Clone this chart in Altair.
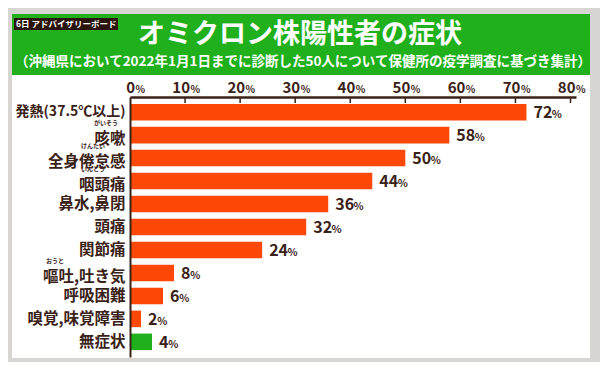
import altair as alt
import pandas as pd

categories = ["発熱(37.5℃以上)", "咳嗽", "全身倦怠感", "咽頭痛", "鼻水,鼻閉", "頭痛",
              "関節痛", "嘔吐,吐き気", "呼吸困難", "嗅覚,味覚障害", "無症状"]
values = [72, 58, 50, 44, 36, 32, 24, 8, 6, 2, 4]
groups = ["症状"] * 10 + ["無症状"]
ruby_cats = ["咳嗽", "全身倦怠感", "咽頭痛", "嘔吐,吐き気"]
ruby_text = ["がいそう", "けんたい", "いんとう", "おうと"]
ticks = [0, 10, 20, 30, 40, 50, 60, 70, 80]

title = "オミクロン株陽性者の症状"
subtitle = "（沖縄県において2022年1月1日までに診断した50人について保健所の疫学調査に基づき集計）"
badge = "6日 アドバイザリーボード"

FONT = "Noto Sans CJK JP"
DARK = "#3a2216"
ORANGE = "#fd4808"
GREEN = "#1fb01c"

W, H = 446, 260
PX = W / 81.0

df = pd.DataFrame({"cat": categories, "v": values, "g": groups})
tdf = pd.DataFrame({"t": ticks})
one = pd.DataFrame({"a": [0]})

xs = alt.Scale(domain=[0, 81], nice=False)
ys = alt.Scale(paddingInner=0.28, paddingOuter=0.3)
ysort = categories

ruby_list = "[" + ",".join(f"'{c}'" for c in ruby_cats) + "]"
first_cat = categories[0]

panel = alt.Chart(one).mark_rect(color="white").encode(
    x=alt.value(-118), x2=alt.value(460), y=alt.value(-83), y2=alt.value(261))
header = alt.Chart(one).mark_rect(color=GREEN).encode(
    x=alt.value(-118), x2=alt.value(460), y=alt.value(-83), y2=alt.value(-22))
badge_box = alt.Chart(one).mark_rect(color="#2a140b").encode(
    x=alt.value(-116), x2=alt.value(-12), y=alt.value(-79), y2=alt.value(-67))
badge_txt = alt.Chart(one).mark_text(
    text=badge, color="white", font=FONT, fontWeight="bold", fontSize=8.5,
    align="left", baseline="middle").encode(x=alt.value(-114), y=alt.value(-73))
title_txt = alt.Chart(one).mark_text(
    text=title, color="white", font=FONT, fontWeight="bold", fontSize=27,
    align="center", baseline="middle").encode(x=alt.value(170), y=alt.value(-62))
sub_txt = alt.Chart(one).mark_text(
    text=subtitle, color="white", font=FONT, fontWeight="bold", fontSize=13.5,
    align="center", baseline="middle").encode(x=alt.value(173), y=alt.value(-35))

bars = alt.Chart(df).mark_bar().encode(
    x=alt.X("v:Q", scale=xs,
            axis=alt.Axis(orient="top", labels=False, ticks=False, grid=False,
                          domainColor=DARK, domainWidth=2.5, title=None, zindex=2)),
    y=alt.Y("cat:N", sort=ysort, scale=ys,
            axis=alt.Axis(
                title=None, ticks=False, domainColor=DARK, domainWidth=2,
                labelFont=FONT, labelFontWeight="bold",
                labelFontSize={"condition": {"test": f"datum.value == '{first_cat}'", "value": 14},
                               "value": 15.5},
                labelOffset={"condition": {"test": f"indexof({ruby_list}, datum.value) >= 0",
                                           "value": 4}, "value": 0},
                labelColor=DARK, labelPadding=5, zindex=2)),
    color=alt.Color("g:N", scale=alt.Scale(domain=["症状", "無症状"], range=[ORANGE, GREEN]),
                    legend=None),
)

num_lbl = alt.Chart(df).mark_text(
    font=FONT, fontWeight="bold", fontSize=16, color=DARK, align="left",
    baseline="alphabetic", dx=7, dy=6).encode(
    x=alt.X("v:Q", scale=xs), y=alt.Y("cat:N", sort=ysort, scale=ys),
    text=alt.Text("v:Q"))
pct_lbl = alt.Chart(df).transform_calculate(
    px=f"datum.v + length(toString(datum.v)) * 9.2 / {PX}").mark_text(
    text="%", font=FONT, fontWeight="bold", fontSize=10.5, color=DARK, align="left",
    baseline="alphabetic", dx=7, dy=6).encode(
    x=alt.X("px:Q", scale=xs), y=alt.Y("cat:N", sort=ysort, scale=ys))

ruby_layers = []
ruby_x = {"咳嗽": -24, "全身倦怠感": -37, "咽頭痛": -37, "嘔吐,吐き気": -75}
for c, r in zip(ruby_cats, ruby_text):
    sub = pd.DataFrame({"cat": [c], "r": [r]})
    ruby_layers.append(alt.Chart(sub).mark_text(
        font=FONT, fontWeight="bold", fontSize=6, color=DARK, align="center",
        baseline="middle", dy=-12).encode(
        x=alt.value(ruby_x[c]), y=alt.Y("cat:N", sort=ysort, scale=ys), text="r:N"))

tick_marks = alt.Chart(tdf[tdf.t > 0]).mark_rule(color=DARK, strokeWidth=1.5).encode(
    x=alt.X("t:Q", scale=xs), y=alt.value(0), y2=alt.value(6))
tick_num = alt.Chart(tdf).mark_text(
    font=FONT, fontWeight="bold", fontSize=15, color=DARK, align="right",
    baseline="alphabetic", dx=5).encode(
    x=alt.X("t:Q", scale=xs), y=alt.value(-4), text=alt.Text("t:Q"))
tick_pct = alt.Chart(tdf).mark_text(
    text="%", font=FONT, fontWeight="bold", fontSize=10, color=DARK, align="left",
    baseline="alphabetic", dx=5.5).encode(
    x=alt.X("t:Q", scale=xs), y=alt.value(-4))

chart = alt.layer(
    panel, header, badge_box, badge_txt, title_txt, sub_txt,
    bars, num_lbl, pct_lbl, *ruby_layers, tick_marks, tick_num, tick_pct
).properties(
    width=W, height=H,
    autosize=alt.AutoSizeParams(type="none"),
    padding={"left": 122, "top": 89, "right": 24, "bottom": 5},
    background="#d8d6d3",
).configure_view(stroke=None)

chart.save("out.html", embed_options={"renderer": "svg", "actions": False})
